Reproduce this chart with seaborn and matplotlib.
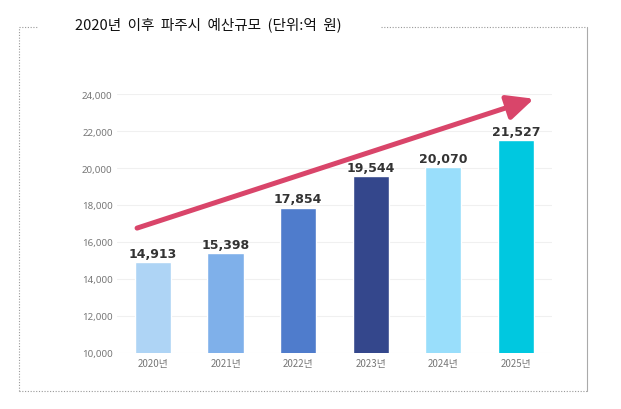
import matplotlib
matplotlib.use('Agg')
import matplotlib.pyplot as plt
import seaborn as sns
import pandas as pd

years = ['2020년', '2021년', '2022년', '2023년', '2024년', '2025년']
budget = [14913, 15398, 17854, 19544, 20070, 21527]
bar_colors = ['#aed4f5', '#7fb0ea', '#4f7ccc', '#34478c', '#99defb', '#00c8e0']
y_ticks = list(range(10000, 24001, 2000))

sns.set_style('white')
plt.rcParams['font.family'] = ['Noto Sans CJK KR', 'DejaVu Sans']

df = pd.DataFrame({'year': years, 'budget': budget})

fig = plt.figure(figsize=(6.21, 4.10), dpi=100)
ax = fig.add_axes([0.188, 0.137, 0.701, 0.631])

sns.barplot(data=df, x='year', y='budget', hue='year', palette=bar_colors,
            legend=False, width=0.5, ax=ax, saturation=1)

ax.set_ylim(10000, 24000)
ax.set_xlim(-0.5, 5.5)
ax.set_yticks(y_ticks)
ax.set_yticklabels([f'{v:,}' for v in y_ticks], fontsize=7, color='#777777',
                   family=['Noto Sans', 'DejaVu Sans'])
ax.tick_params(axis='x', labelsize=7, colors='#777777', length=0, pad=4)
ax.tick_params(axis='y', length=0, pad=3)
ax.set_xlabel('')
ax.set_ylabel('')
ax.grid(axis='y', color='#f0f0f0', linewidth=0.8)
ax.set_axisbelow(True)
for s in ax.spines.values():
    s.set_visible(False)

for i, v in enumerate(budget):
    ax.text(i, v + 120, f'{v:,}', ha='center', va='bottom', fontsize=9,
            fontweight='bold', color='#333333', family=['DejaVu Sans'])

# trend arrow
ax.annotate('', xy=(5.25, 23750), xytext=(-0.22, 16750),
            arrowprops=dict(arrowstyle='-|>,head_length=1.6,head_width=0.75',
                            color='#d9456a', lw=3.6, shrinkA=0, shrinkB=0))

# dotted frame
fig.text(75 / 621, 1 - 25 / 410, '2020년  이후  파주시  예산규모  (단위:억  원)',
         fontsize=10.5, va='center', ha='left', color='#111111')
fk = dict(color='#999999', linewidth=0.8, linestyle=(0, (1, 1.5)))
x0, x1 = 19 / 621, 587 / 621
y0, y1 = 1 - 392 / 410, 1 - 28 / 410
fig.add_artist(plt.Line2D([x0, x0], [y0, y1], **fk))
fig.add_artist(plt.Line2D([x0, x1], [y0, y0], **fk))
fig.add_artist(plt.Line2D([x0, 37 / 621], [y1, y1], **fk))
fig.add_artist(plt.Line2D([381 / 621, x1], [y1, y1], **fk))
fig.add_artist(plt.Line2D([x1, x1], [y0, y1], color='#aaaaaa', linewidth=0.8))

fig.savefig('out.png', dpi=100)
